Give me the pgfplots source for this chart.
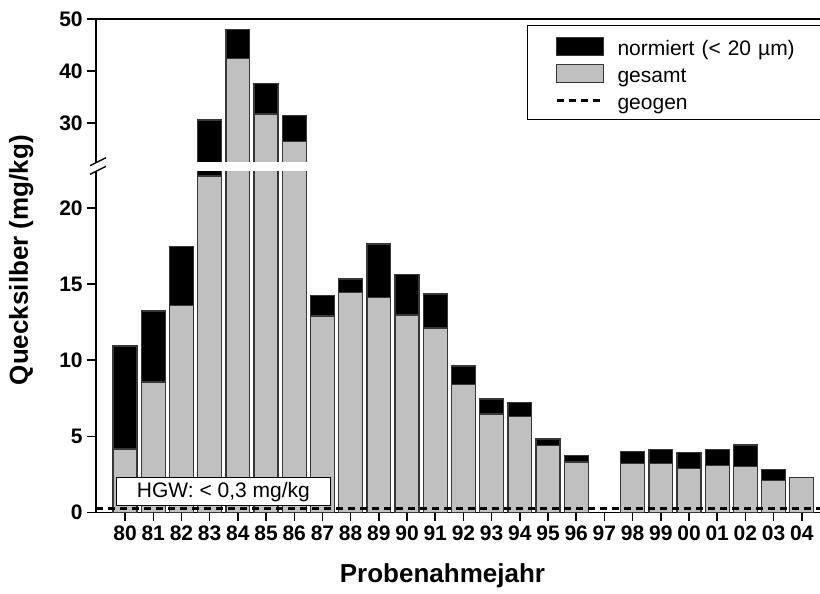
\documentclass[border=0pt]{standalone}
\usepackage{fontspec}
\setmainfont{Liberation Sans}
\usepackage{pgfplots}
\pgfplotsset{compat=1.18}
\usepackage{pgfplotstable}
\definecolor{barfill}{RGB}{192,192,192}
\definecolor{barline}{RGB}{55,55,55}

\pgfplotstableread{
idx norm  ges
0   10.93 4.17
1   13.23 8.57
2   17.45 13.58
3   30.55 22.10
4   48.00 42.40
5   37.60 31.70
6   31.50 26.50
7   14.26 12.90
8   15.33 14.46
9   17.63 14.10
10  15.64 12.97
11  14.35 12.11
12  9.62  8.39
13  7.45  6.47
14  7.24  6.29
15  4.83  4.39
16  3.73  3.32
18  4.02  3.23
19  4.12  3.23
20  3.93  2.90
21  4.12  3.10
22  4.43  3.00
23  2.81  2.09
24  nan   2.28
}\datatable

\begin{document}
\begin{tikzpicture}
\pgfplotsset{
  brokenbase/.style={scale only axis, width=550.5pt, xmin=-1.03, xmax=25,
    axis y line*=left, tick align=outside, major tick length=6.5pt,
    axis line style={line width=1.1pt},
    tick style={line width=1.1pt, black},
    ticklabel style={font=\bfseries\fontsize{15.75}{18}\selectfont},
    /pgf/number format/assume math mode=true},
  barN/.style={ybar, bar width=0.85, bar shift=0pt, fill=black, draw=barline, line width=1pt},
  barG/.style={ybar, bar width=0.85, bar shift=0pt, fill=barfill, draw=barline, line width=1pt},
  geo/.style={black, line width=2.4pt, dash pattern=on 5.25pt off 3.75pt},
}
% lower part
\begin{axis}[brokenbase, at={(72pt,60.375pt)}, anchor=south west,
  height=256.125pt, ymin=0, ymax=22.42,
  axis x line*=bottom,
  ytick={0,5,10,15,20},
  xtick={0,...,24},
  xticklabels={80,81,82,83,84,85,86,87,88,89,90,91,92,93,94,95,96,97,98,99,00,01,02,03,04},
  xlabel={Probenahmejahr},
  xlabel style={at={(axis description cs:0.472,-0.2035)}, anchor=base, font=\bfseries\fontsize{19.5}{22}\selectfont},
  ylabel={Quecksilber (mg/kg)},
  ylabel style={at={(axis description cs:-0.102,0.739)}, anchor=center, font=\bfseries\fontsize{19.5}{22}\selectfont},
]
\addplot[barN] table[x=idx, y=norm] {\datatable};
\addplot[barG] table[x=idx, y=ges] {\datatable};
\addplot[geo] coordinates {(-1.03,0.25) (25,0.25)};
\node[draw=black, line width=0.75pt, fill=white, minimum width=160pt, minimum height=21pt, inner sep=0pt,
  font=\fontsize{15.75}{18}\selectfont] at (axis cs:3.49,1.35) {HGW: < 0,3 mg/kg};
\end{axis}
% upper part
\begin{axis}[brokenbase, at={(72pt,322.5pt)}, anchor=south west,
  height=108pt, ymin=22.31, ymax=50,
  axis x line*=top, xtick=\empty,
  ytick={30,40,50},
  legend style={at={(axis description cs:0.5868,0.958)}, anchor=north west,
    draw=black, line width=0.75pt, fill=white,
    inner xsep=21pt, inner ysep=5pt, row sep=0.4pt, column sep=9.75pt,
    font=\fontsize{15.75}{18}\selectfont,
    cells={anchor=base west},
    nodes={inner sep=0pt, text height=17.5pt, text depth=2.35pt, text width=150pt}},
]
\addplot[barN, restrict y to domain=22.31:100,
  legend image code/.code={\draw[fill=black, draw=barline, line width=1pt] (0pt,-0.15pt) rectangle (35pt,13.35pt);}]
  table[x=idx, y=norm] {\datatable};
\addlegendentry{normiert (< 20 µm)}
\addplot[barG, restrict y to domain=22.31:100,
  legend image code/.code={\draw[fill=barfill, draw=barline, line width=1pt] (0pt,-0.15pt) rectangle (35pt,13.35pt);}]
  table[x=idx, y=ges] {\datatable};
\addlegendentry{gesamt}
\addlegendimage{legend image code/.code={\draw[black, line width=2pt, dash pattern=on 5.25pt off 3.75pt] (0pt,6.6pt) -- (35pt,6.6pt);}}
\addlegendentry{geogen}
\end{axis}
% white gap of the axis break
\fill[white] (73pt,316.6pt) rectangle (620pt,323.2pt);
% axis break marks
\draw[line width=1pt] (67.5pt,320.5pt) -- (79.5pt,326.5pt);
\draw[line width=1pt] (67.5pt,314pt) -- (79.5pt,320pt);
\pgfresetboundingbox
\path[use as bounding box] (0pt,0pt) rectangle (615pt,444.75pt);
\end{tikzpicture}
\end{document}
